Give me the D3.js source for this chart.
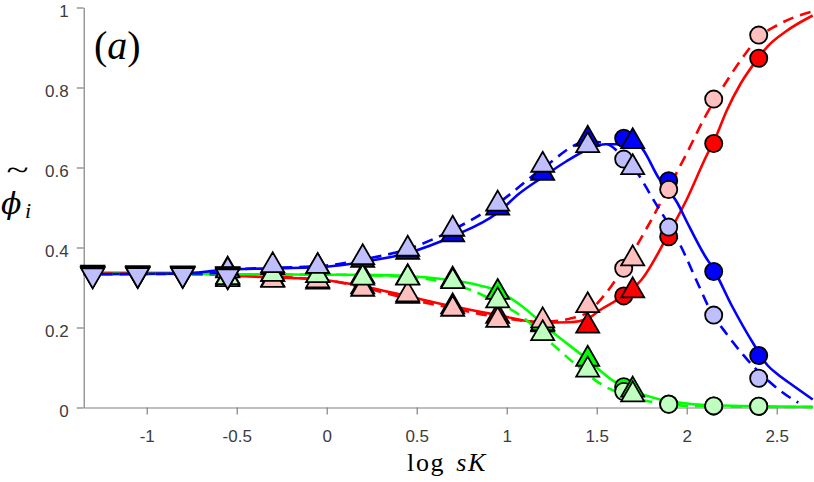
<!DOCTYPE html>
<html>
<head>
<meta charset="utf-8">
<script src="https://cdn.jsdelivr.net/npm/d3@7"></script>
<style>
  body { margin: 0; background: #fff; }
  svg { display: block; }
</style>
</head>
<body>
<svg id="chart"></svg>
<script>
// marker x positions (log sK)
var xDown = [-1.3, -1.05, -0.8, -0.55];
var xUp = [-0.55, -0.3, -0.05, 0.2, 0.45, 0.7, 0.95, 1.2, 1.45, 1.7];
var xCirc = [1.65, 1.9, 2.15, 2.4];

// down triangles
var downR  = [0.338, 0.337, 0.336, 0.334];
var downG  = [0.335, 0.334, 0.335, 0.331];
var downB  = [0.333, 0.334, 0.334, 0.333];
var downRl = [0.334, 0.333, 0.333, 0.331];
var downGl = [0.333, 0.333, 0.334, 0.330];
var downBl = [0.331, 0.332, 0.332, 0.329];

// up triangles
var upR  = [0.322, 0.320, 0.314, 0.302, 0.278, 0.252, 0.228, 0.207, 0.204, 0.292];
var upG  = [0.327, 0.333, 0.330, 0.328, 0.325, 0.319, 0.288, 0.210, 0.121, 0.044];
var upB  = [0.344, 0.350, 0.352, 0.368, 0.388, 0.432, 0.499, 0.586, 0.671, 0.665];
var upRl = [0.320, 0.318, 0.317, 0.296, 0.282, 0.246, 0.218, 0.217, 0.255, 0.372];
var upGl = [0.325, 0.333, 0.330, 0.324, 0.324, 0.315, 0.267, 0.185, 0.094, 0.032];
var upBl = [0.342, 0.355, 0.353, 0.375, 0.396, 0.446, 0.509, 0.606, 0.655, 0.600];

// circles
var circR  = [0.279, 0.427, 0.660, 0.873];
var circG  = [0.052, 0.009, 0.004, 0.003];
var circB  = [0.673, 0.567, 0.340, 0.130];
var circRl = [0.348, 0.545, 0.771, 0.931];
var circGl = [0.040, 0.008, 0.004, 0.003];
var circBl = [0.621, 0.451, 0.231, 0.073];

// theory curves [x, y]
var redSolid = [[-1.35,0.337],[-0.7,0.336],[-0.45,0.328],[-0.2,0.324],[0,0.318],[0.2,0.303],[0.45,0.278],
  [0.7,0.253],[0.95,0.231],[1.2,0.212],[1.35,0.213],[1.45,0.222],[1.52,0.244],[1.65,0.28],[1.75,0.32],
  [1.9,0.435],[2.0,0.52],[2.1,0.62],[2.17,0.685],[2.22,0.74],[2.3,0.81],[2.4,0.875],[2.45,0.903],
  [2.55,0.94],[2.7,0.98]];
var redDash = [[-1.35,0.336],[-0.5,0.33],[0,0.318],[0.2,0.3],[0.45,0.272],[0.7,0.248],[0.95,0.226],
  [1.2,0.214],[1.35,0.222],[1.45,0.238],[1.55,0.285],[1.65,0.35],[1.78,0.45],[1.9,0.55],[2.0,0.635],
  [2.1,0.725],[2.2,0.8],[2.3,0.868],[2.4,0.925],[2.5,0.955],[2.6,0.976],[2.7,0.99]];
var greenSolid = [[-1.35,0.335],[-0.7,0.334],[-0.5,0.333],[0,0.332],[0.3,0.331],[0.5,0.327],[0.7,0.318],
  [0.85,0.305],[0.95,0.292],[1.07,0.258],[1.25,0.19],[1.44,0.123],[1.59,0.067],[1.69,0.044],
  [1.85,0.02],[2.0,0.01],[2.2,0.005],[2.7,0.002]];
var greenDash = [[-1.35,0.334],[0,0.332],[0.45,0.327],[0.6,0.318],[0.8,0.294],[0.95,0.262],[1.06,0.235],
  [1.26,0.156],[1.39,0.105],[1.54,0.054],[1.65,0.033],[1.78,0.016],[1.9,0.008],[2.1,0.003],[2.7,0.001]];
var blueSolid = [[-1.35,0.333],[-1.0,0.334],[-0.75,0.336],[-0.6,0.343],[-0.5,0.346],[-0.25,0.348],
  [0,0.352],[0.2,0.364],[0.45,0.386],[0.7,0.428],[0.95,0.487],[1.07,0.535],[1.2,0.576],[1.33,0.615],
  [1.45,0.645],[1.55,0.658],[1.72,0.658],[1.85,0.57],[1.95,0.51],[2.0,0.465],[2.1,0.38],[2.15,0.345],
  [2.25,0.255],[2.37,0.16],[2.45,0.105],[2.5,0.085],[2.6,0.052],[2.7,0.02]];
var blueDash = [[-1.35,0.333],[-0.6,0.336],[-0.5,0.345],[0,0.355],[0.2,0.37],[0.45,0.396],[0.7,0.444],
  [0.95,0.51],[1.2,0.598],[1.45,0.665],[1.55,0.66],[1.65,0.625],[1.72,0.59],[1.81,0.523],[1.96,0.41],
  [2.07,0.302],[2.13,0.244],[2.22,0.185],[2.39,0.094],[2.58,0.023],[2.62,0.012]];

var xTicks = [-1, -0.5, 0, 0.5, 1, 1.5, 2, 2.5];
var yTicks = [0, 0.2, 0.4, 0.6, 0.8, 1];

var w = 814;
var h = 482;

var svg = d3.select("#chart")
    .attr("width", w)
    .attr("height", h);

var x = d3.scaleLinear().domain([-1.35, 2.7]).range([83.7, 812.7]);
var y = d3.scaleLinear().domain([0, 1]).range([407.5, 7.5]);

var red = "#ff0000", green = "#00ff00", blue = "#0000ff";
var redL = "#ffbfbf", greenL = "#bfffbf", blueL = "#bfbfff";

// axes
var gx = svg.append("g")
    .attr("transform", "translate(0," + y(0) + ")")
    .call(d3.axisBottom(x).tickValues(xTicks).tickFormat(String)
        .tickSize(7).tickSizeOuter(0).tickPadding(15));
var gy = svg.append("g")
    .attr("transform", "translate(" + x(-1.35) + ",0)")
    .call(d3.axisLeft(y).tickValues(yTicks).tickFormat(String)
        .tickSize(7).tickSizeOuter(0).tickPadding(8));
gy.selectAll(".tick text").attr("dy", "0.5em");

[gx, gy].forEach(function (g) {
    g.select(".domain").attr("stroke", "#808080").attr("stroke-width", 1.2);
    g.selectAll(".tick line").attr("stroke", "#808080").attr("stroke-width", 1.2);
    g.selectAll(".tick text")
        .attr("fill", "#3c3c3c")
        .attr("font-family", "Liberation Sans, Arial, sans-serif")
        .attr("font-size", "17px");
});

// curves
var line = d3.line()
    .x(function (d) { return x(d[0]); })
    .y(function (d) { return y(d[1]); })
    .curve(d3.curveMonotoneX);

var curves = [
    [redSolid, red, null], [greenSolid, green, null], [blueSolid, blue, null],
    [redDash, red, "11,7"], [greenDash, green, "11,7"], [blueDash, blue, "11,7"]
];
curves.forEach(function (c) {
    svg.append("path")
        .datum(c[0])
        .attr("d", line)
        .attr("fill", "none")
        .attr("stroke", c[1])
        .attr("stroke-width", 2.6)
        .attr("stroke-dasharray", c[2]);
});

// markers
var side = 23;
var th = side * Math.sqrt(3) / 2;
function triPath(up) {
    var s = up ? 1 : -1;
    return "M0," + (-s * th * 2 / 3) + "L" + (side / 2) + "," + (s * th / 3) +
        "L" + (-side / 2) + "," + (s * th / 3) + "Z";
}

function addMarkers(xs, ys, color, kind) {
    var g = svg.append("g");
    var sel = g.selectAll(".m")
        .data(ys)
        .enter();
    if (kind === "circle") {
        sel.append("circle")
            .attr("cx", function (d, i) { return x(xs[i]); })
            .attr("cy", function (d) { return y(d); })
            .attr("r", 8.6)
            .attr("fill", color)
            .attr("stroke", "#000")
            .attr("stroke-width", 1.8);
    } else {
        sel.append("path")
            .attr("d", triPath(kind === "up"))
            .attr("transform", function (d, i) {
                return "translate(" + x(xs[i]) + "," + y(d) + ")";
            })
            .attr("fill", color)
            .attr("stroke", "#000")
            .attr("stroke-width", 1.8)
            .attr("stroke-linejoin", "miter");
    }
}

addMarkers(xCirc, circR, red, "circle");
addMarkers(xCirc, circG, green, "circle");
addMarkers(xCirc, circB, blue, "circle");
addMarkers(xCirc, circRl, redL, "circle");
addMarkers(xCirc, circGl, greenL, "circle");
addMarkers(xCirc, circBl, blueL, "circle");

addMarkers(xUp, upR, red, "up");
addMarkers(xUp, upG, green, "up");
addMarkers(xUp, upB, blue, "up");
addMarkers(xUp, upRl, redL, "up");
addMarkers(xUp, upGl, greenL, "up");
addMarkers(xUp, upBl, blueL, "up");

addMarkers(xDown, downR, red, "down");
addMarkers(xDown, downG, green, "down");
addMarkers(xDown, downB, blue, "down");
addMarkers(xDown, downRl, redL, "down");
addMarkers(xDown, downGl, greenL, "down");
addMarkers(xDown, downBl, blueL, "down");

// labels
var serif = "Liberation Serif, Times New Roman, serif";

var pa = svg.append("text")
    .attr("x", 94)
    .attr("y", 59)
    .attr("font-family", serif)
    .attr("font-size", "40px");
pa.append("tspan").text("(");
pa.append("tspan").attr("font-style", "italic").text("a");
pa.append("tspan").text(")");

var xl = svg.append("text")
    .attr("x", 447)
    .attr("y", 471)
    .attr("text-anchor", "middle")
    .attr("font-family", serif)
    .attr("font-size", "26px")
    .attr("letter-spacing", "1.6px")
    .attr("word-spacing", "3px");
xl.append("tspan").text("log ");
xl.append("tspan").attr("font-style", "italic").text("sK");

// y label: widetilde phi, subscript i
var yl = svg.append("text")
    .attr("font-family", "DejaVu Serif, serif")
    .attr("font-style", "italic");
yl.append("tspan")
    .attr("x", 1)
    .attr("y", 214)
    .attr("font-size", "30px")
    .text("ϕ");
yl.append("tspan")
    .attr("x", 25)
    .attr("y", 218)
    .attr("font-family", serif)
    .attr("font-size", "22px")
    .text("i");
svg.append("text")
    .attr("transform", "translate(17.5,180) scale(1.7,1.25)")
    .attr("text-anchor", "middle")
    .attr("font-family", serif)
    .attr("font-size", "24px")
    .text("~");
</script>
</body>
</html>
